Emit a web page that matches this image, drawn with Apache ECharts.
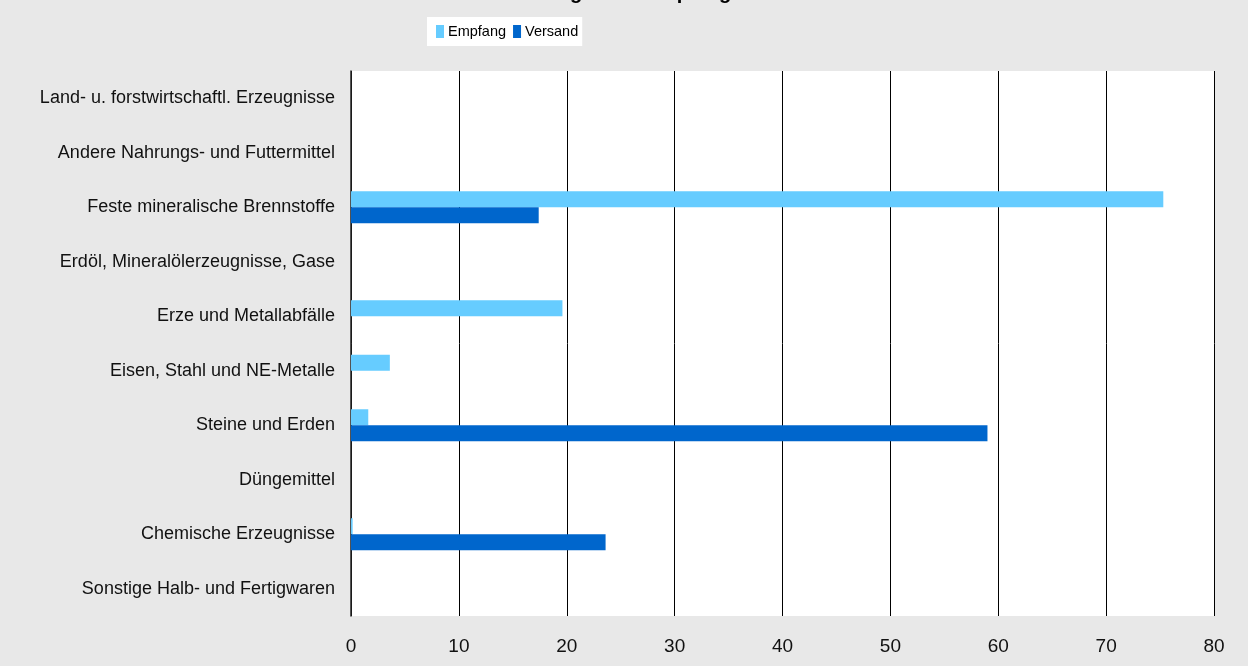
<!DOCTYPE html>
<html style="height: 100%">
    <head>
        <meta charset="utf-8">
    </head>
    <body style="height: 100%; margin: 0; background: #e8e8e8">
        <div id="container" style="width: 1248px; height: 666px"></div>

        <script type="text/javascript" src="https://cdn.jsdelivr.net/npm/echarts@6/dist/echarts.min.js"></script>
        <script type="text/javascript">
var categories = [
    'Land- u. forstwirtschaftl. Erzeugnisse',
    'Andere Nahrungs- und Futtermittel',
    'Feste mineralische Brennstoffe',
    'Erdöl, Mineralölerzeugnisse, Gase',
    'Erze und Metallabfälle',
    'Eisen, Stahl und NE-Metalle',
    'Steine und Erden',
    'Düngemittel',
    'Chemische Erzeugnisse',
    'Sonstige Halb- und Fertigwaren'
];
// Anteile in Prozent
var empfang = [0, 0, 75.3, 0, 19.6, 3.6, 1.6, 0, 0.15, 0];
var versand = [0, 0, 17.4, 0, 0, 0, 59.0, 0, 23.6, 0];
var xTicks = [0, 80, 10];

var dom = document.getElementById('container');
var myChart = echarts.init(dom);
var font = 'Liberation Sans, Arial, sans-serif';

var option = {
    backgroundColor: '#e8e8e8',
    animation: false,
    textStyle: { fontFamily: font },
    title: {
        text: 'Anteile der Güterabteilungen am Empfang und Versand in Prozent',
        left: 640,
        textAlign: 'center',
        top: -22,
        textStyle: { fontFamily: font, fontSize: 20, fontWeight: 'bold', color: '#000' }
    },
    legend: {
        top: 17,
        left: 427,
        backgroundColor: '#fff',
        padding: [7, 4, 7, 9],
        icon: 'rect',
        itemWidth: 8,
        itemHeight: 13,
        itemGap: 7,
        textStyle: {
            fontFamily: font,
            fontSize: 14.5,
            color: '#000',
            padding: [0, 0, 0, -1]
        },
        data: ['Empfang', 'Versand']
    },
    grid: {
        left: 351,
        right: 34,
        top: 71,
        bottom: 50,
        show: true,
        backgroundColor: '#fff',
        borderWidth: 0
    },
    xAxis: {
        type: 'value',
        min: xTicks[0],
        max: xTicks[1],
        interval: xTicks[2],
        axisLine: { show: false },
        axisTick: { show: false },
        splitLine: { show: true, lineStyle: { color: '#000', width: 1 } },
        axisLabel: { fontFamily: font, fontSize: 19, color: '#111', margin: 21 }
    },
    yAxis: {
        type: 'category',
        inverse: true,
        data: categories,
        axisLine: { show: true, lineStyle: { color: '#222', width: 1.5 } },
        axisTick: { show: false },
        axisLabel: { fontFamily: font, fontSize: 18, color: '#111', margin: 16 }
    },
    series: [
        {
            name: 'Empfang',
            type: 'bar',
            data: empfang,
            barWidth: 16,
            barGap: '0%',
            itemStyle: { color: '#66ccff' }
        },
        {
            name: 'Versand',
            type: 'bar',
            data: versand,
            barWidth: 16,
            barGap: '0%',
            itemStyle: { color: '#0066cc' }
        }
    ]
};

myChart.setOption(option);
        </script>
    </body>
</html>
